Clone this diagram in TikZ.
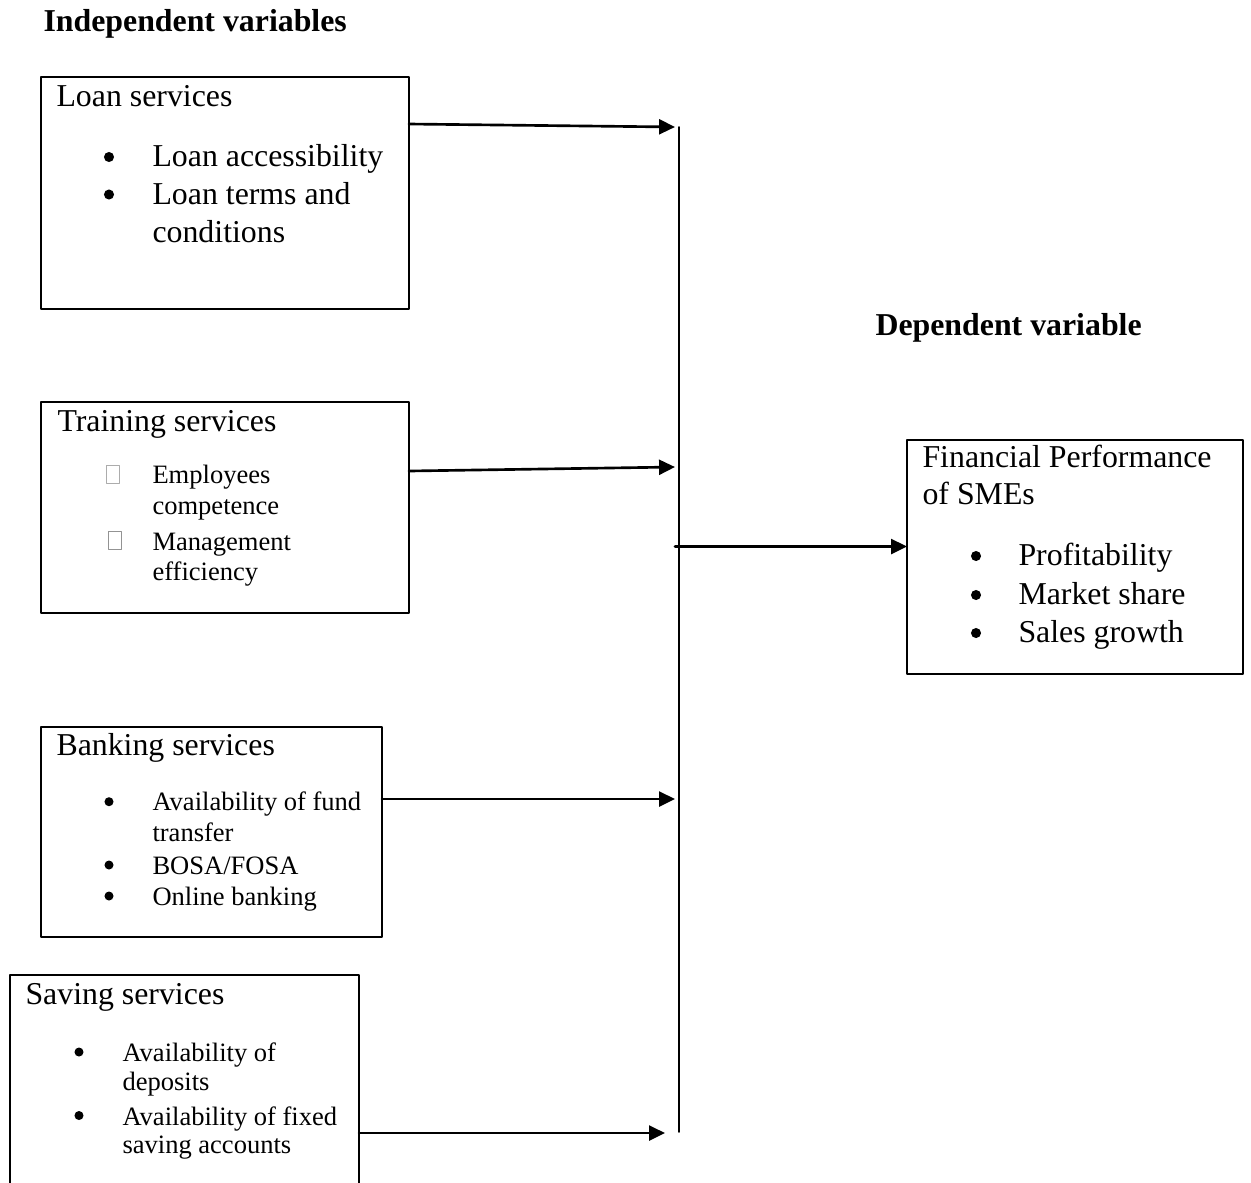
\documentclass[tikz,border=0pt]{standalone}
\usepackage{fontspec}
\setmainfont{Liberation Serif}
\usetikzlibrary{arrows.meta,fit}

\begin{document}
\begin{tikzpicture}[line cap=round,line join=round,>={Triangle[length=6pt,width=5.6pt]},x=0.377pt,y=-0.377pt,
  box/.style={draw,line width=0.5pt,inner sep=0pt,outer sep=0pt},
  head/.style={anchor=base west,inner sep=0pt,font=\fontsize{12}{14}\selectfont\bfseries},
  big/.style={anchor=base west,inner sep=0pt,font=\fontsize{12}{14}\selectfont},
  small/.style={anchor=base west,inner sep=0pt,font=\fontsize{10}{12}\selectfont},
  dotbig/.style={circle,fill,inner sep=0pt,minimum size=3.8pt},
  dotsmall/.style={circle,fill,inner sep=0pt,minimum size=3.4pt},
  tick/.style={draw=gray!65,line width=0.4pt,inner sep=0pt,minimum width=4.9pt,minimum height=6.8pt},
  link/.style={->,line width=1pt}]
\useasboundingbox (0,0) rectangle (1251,1182);
\clip (0,0) rectangle (1251,1182);
\node[head] (indep) at (43,31.7) {Independent variables};
\node[head] (dep) at (875,335) {Dependent variable};
% loan services
\node[box,fit={(41,77) (409,309)}] (loan) {};
\node[big] (loant) at (56,106) {Loan services};
\node[dotbig] (loanb1) at (109,157) {};
\node[big] (loan1) at (152,166.7) {Loan accessibility};
\node[dotbig] (loanb2) at (109,194.5) {};
\node[big] (loan2) at (152,204) {Loan terms and};
\node[big] (loan3) at (152,242) {conditions};
% training services
\node[box,fit={(41,402) (409,613)}] (train) {};
\node[big] (traint) at (57,431.7) {Training services};
\node[tick] (trainb1) at (113.3,474.5) {};
\node[tick,draw=gray!85] (trainb2) at (115,540.5) {};
\node[small] (train1) at (152,483) {Employees};
\node[small] (train2) at (152,514) {competence};
\node[small] (train3) at (152,550) {Management};
\node[small] (train4) at (152,580) {efficiency};
% banking services
\node[box,fit={(41,727) (382,937)}] (bank) {};
\node[big] (bankt) at (56,755) {Banking services};
\node[dotsmall] (bankb1) at (109,801.7) {};
\node[small] (bank1) at (152,810.7) {Availability of fund};
\node[small] (bank2) at (152,841.7) {transfer};
\node[dotsmall] (bankb2) at (109,865) {};
\node[small] (bank3) at (152,874) {BOSA/FOSA};
\node[dotsmall] (bankb3) at (109,896) {};
\node[small] (bank4) at (152,905) {Online banking};
% saving services
\node[box,fit={(10,975) (359,1200)}] (save) {};
\node[big] (savet) at (25,1004) {Saving services};
\node[dotsmall] (saveb1) at (79,1052) {};
\node[small] (save1) at (122,1061.7) {Availability of};
\node[small] (save2) at (122,1090) {deposits};
\node[dotsmall] (saveb2) at (79,1115.5) {};
\node[small] (save3) at (122,1125) {Availability of fixed};
\node[small] (save4) at (122,1153) {saving accounts};
% financial performance
\node[box,fit={(907,440) (1243,674)}] (perf) {};
\node[big] (perft1) at (922,467) {Financial Performance};
\node[big] (perft2) at (922,504) {of SMEs};
\node[dotbig] (perfb1) at (976,556) {};
\node[big] (perf1) at (1018,565) {Profitability};
\node[dotbig] (perfb2) at (976,595) {};
\node[big] (perf2) at (1018,604) {Market share};
\node[dotbig] (perfb3) at (976,633) {};
\node[big] (perf3) at (1018,642) {Sales growth};
% bus line and arrows
\coordinate (bustop) at (679,127);
\coordinate (busbot) at (679,1132);
\draw[line width=0.6pt] (bustop) -- (busbot);
\coordinate (loanout) at (409,124);
\coordinate (loanin) at (675,127);
\coordinate (trainout) at (409,471);
\coordinate (trainin) at (675,467);
\coordinate (bankout) at (382,799);
\coordinate (bankin) at (675,799);
\coordinate (saveout) at (359,1133);
\coordinate (savein) at (665,1133);
\coordinate (busout) at (675,546.5);
\draw[link] (loanout) -- (loanin);
\draw[link] (trainout) -- (trainin);
\draw[link] (bankout) -- (bankin);
\draw[link] (saveout) -- (savein);
\draw[link] (busout) -- (perf.west |- busout);
\end{tikzpicture}
\end{document}
